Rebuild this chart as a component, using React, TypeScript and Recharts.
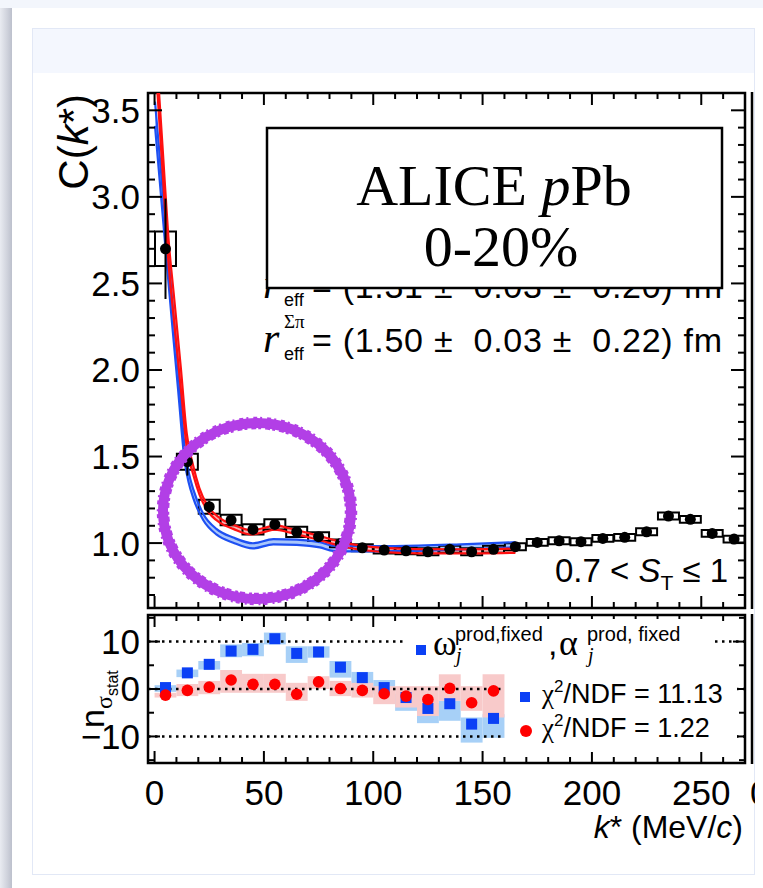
import { ComposedChart, XAxis, YAxis, Scatter, Line, Area, ErrorBar, ReferenceArea, ReferenceLine } from "recharts";

// measured C(k*) points, 0-20% pPb
const K_DATA = [5, 15, 25, 35, 45, 55, 65, 75, 85, 95, 105, 115, 125, 135, 145, 155, 165, 175, 185, 195, 205, 215, 225, 235, 245, 255, 265];
const C_DATA = [2.7, 1.47, 1.21, 1.133, 1.079, 1.108, 1.065, 1.037, 0.998, 0.973, 0.96, 0.955, 0.95, 0.964, 0.95, 0.964, 0.979, 1.004, 1.013, 1.008, 1.027, 1.033, 1.065, 1.156, 1.137, 1.056, 1.023];
const C_STAT = [0.29, 0.08, 0.035, 0.02, 0.015, 0.015, 0.015, 0.012, 0.012, 0.01, 0.01, 0.01, 0.01, 0.01, 0.01, 0.01, 0.01, 0.01, 0.01, 0.01, 0.01, 0.01, 0.01, 0.01, 0.01, 0.01, 0.01];
const C_SYS = [0.1, 0.046, 0.04, 0.03, 0.03, 0.03, 0.03, 0.025, 0.022, 0.02, 0.02, 0.02, 0.02, 0.02, 0.02, 0.02, 0.02, 0.02, 0.02, 0.02, 0.02, 0.02, 0.02, 0.02, 0.02, 0.02, 0.02];

// model with alpha free (red) and fixed (blue)
const RED_K = [0.8, 1.7, 4, 6.3, 9, 12.1, 14.7, 17.7, 20.5, 23.8, 30, 36, 44, 50, 55, 62, 70, 78, 85, 95, 105, 120, 140, 165];
const RED_C = [3.78, 3.6, 3.15, 2.7, 2.34, 1.94, 1.595, 1.42, 1.3, 1.21, 1.13, 1.094, 1.062, 1.075, 1.09, 1.072, 1.047, 1.02, 0.995, 0.972, 0.96, 0.953, 0.952, 0.956];
const RED_W = [0.07, 0.07, 0.07, 0.07, 0.07, 0.06, 0.04, 0.025, 0.018, 0.015, 0.013, 0.012, 0.012, 0.012, 0.012, 0.012, 0.012, 0.012, 0.012, 0.012, 0.012, 0.012, 0.012, 0.012];
const BLUE_K = [0.2, 3, 5.5, 8, 10.8, 13.9, 15.6, 17.7, 22.3, 28.4, 36, 45, 54.3, 65, 75.6, 81.7, 90.8, 110, 140, 165];
const BLUE_C = [3.48, 3.07, 2.7, 2.34, 1.94, 1.5, 1.38, 1.285, 1.15, 1.065, 1.017, 0.984, 1.008, 1.005, 0.99, 0.97, 0.967, 0.968, 0.978, 0.99];
const BLUE_W = [0.07, 0.07, 0.07, 0.07, 0.06, 0.04, 0.03, 0.025, 0.018, 0.016, 0.015, 0.015, 0.015, 0.015, 0.015, 0.015, 0.015, 0.015, 0.015, 0.015];

// residuals panel
const K_RES = [5, 15, 25, 35, 45, 55, 65, 75, 85, 95, 105, 115, 125, 135, 145, 155];
const N_BLUE = [0.3, 3.4, 5.2, 8.0, 8.35, 10.6, 7.5, 7.8, 4.6, 2.4, 0.3, -1.8, -4.1, -3.1, -7.4, -6.2];
const N_BLUE_LO = [-0.6, 2.5, 4.1, 6.7, 6.9, 9.4, 5.5, 6.6, 2.4, 1.0, -1.0, -4.6, -7.2, -6.7, -11.3, -10.3];
const N_BLUE_HI = [0.8, 4.1, 5.9, 9.4, 9.7, 11.9, 9.0, 9.0, 5.9, 3.6, 1.9, -1.0, -3.0, -2.5, -6.0, -5.3];
const N_RED = [-1.3, -0.3, 0.4, 1.9, 1.0, 1.0, -1.1, 1.5, 0.1, -0.3, -1.0, -1.5, -2.2, 0.15, -2.9, -0.4];
const N_RED_LO = [-1.8, -1.5, -1.1, -0.8, -0.8, -0.8, -2.5, 0, -1.5, -1.8, -3.2, -3.9, -5.7, -2.5, -4.6, -6.0];
const N_RED_HI = [-0.8, 1.05, 1.7, 4.0, 3.2, 3.2, 1.3, 2.7, 1.7, 1.3, 0.6, 0.6, 0.6, 3.1, 0.6, 3.1];

const X_MAJOR = [0, 50, 100, 150, 200, 250];
const X_MINOR = [10, 20, 30, 40, 60, 70, 80, 90, 110, 120, 130, 140, 160, 170, 180, 190, 210, 220, 230, 240, 260];
const Y_TOP_MAJOR = [1.0, 1.5, 2.0, 2.5, 3.0, 3.5];
const Y_TOP_MINOR = [0.7, 0.8, 0.9, 1.1, 1.2, 1.3, 1.4, 1.6, 1.7, 1.8, 1.9, 2.1, 2.2, 2.3, 2.4, 2.6, 2.7, 2.8, 2.9, 3.1, 3.2, 3.3, 3.4];
const Y_BOT_MAJOR = [-10, 0, 10];
const Y_BOT_MINOR = [-15, -5, 5, 15];
const DOTTED = [10, 0, -10];

const X_DOMAIN = [-3, 270];
const Y_TOP_DOMAIN = [0.625, 3.6];
const Y_BOT_DOMAIN = [-15.6, 15.6];
const PLOT_W = 597;
const TOP_H = 515;
const BOT_H = 148;

const SANS = '"Liberation Sans", Arial, Helvetica, sans-serif';
const SERIF = '"Liberation Serif", "Times New Roman", serif';
const RING = "#b23fe6";

const points = K_DATA.map((k, i) => ({ k, v: C_DATA[i], e: C_STAT[i] }));
const redCurve = RED_K.map((k, i) => ({ k, band: [RED_C[i] - RED_W[i], RED_C[i] + RED_W[i]], lo: RED_C[i] - RED_W[i], hi: RED_C[i] + RED_W[i] }));
const blueCurve = BLUE_K.map((k, i) => ({ k, band: [BLUE_C[i] - BLUE_W[i], BLUE_C[i] + BLUE_W[i]], lo: BLUE_C[i] - BLUE_W[i], hi: BLUE_C[i] + BLUE_W[i] }));
const bluePts = K_RES.map((k, i) => ({ k, n: N_BLUE[i] }));
const redPts = K_RES.map((k, i) => ({ k, n: N_RED[i] }));

// ROOT-like frame with ticks pointing inward on all four sides.
// Tick lengths are given in pixels and turned into data units of each axis.
function frame(p: string, yDom: number[], plotH: number, yMajor: number[], yMinor: number[], yMajPx: number, yMinPx: number) {
  const [x0, x1] = X_DOMAIN;
  const [y0, y1] = yDom;
  const ux = (x1 - x0) / PLOT_W;
  const uy = (y1 - y0) / plotH;
  const seg = (key: string, a: number, b: number, c: number, d: number) => (
    <ReferenceLine key={p + key} xAxisId="x" yAxisId="y" segment={[{ x: a, y: b }, { x: c, y: d }]}
      stroke="#000" strokeWidth={2} ifOverflow="visible" />
  );
  const out: any[] = [];
  X_MAJOR.forEach((t) => {
    out.push(seg("xb" + t, t, y0, t, y0 + 12 * uy));
    out.push(seg("xt" + t, t, y1, t, y1 - 12 * uy));
  });
  X_MINOR.forEach((t) => {
    out.push(seg("xbm" + t, t, y0, t, y0 + 6 * uy));
    out.push(seg("xtm" + t, t, y1, t, y1 - 6 * uy));
  });
  yMajor.forEach((t) => {
    out.push(seg("yl" + t, x0, t, x0 + yMajPx * ux, t));
    out.push(seg("yr" + t, x1, t, x1 - yMajPx * ux, t));
  });
  yMinor.forEach((t) => {
    out.push(seg("ylm" + t, x0, t, x0 + yMinPx * ux, t));
    out.push(seg("yrm" + t, x1, t, x1 - yMinPx * ux, t));
  });
  out.push(
    <ReferenceArea key={p + "box"} xAxisId="x" yAxisId="y" x1={x0} x2={x1} y1={y0} y2={y1}
      fill="none" fillOpacity={0} stroke="#000" strokeWidth={2.5} ifOverflow="visible" />
  );
  return out;
}

const dot = (r: number, fill: string) => (p: any) => <circle cx={p.cx} cy={p.cy} r={r} fill={fill} />;
const square = (s: number, fill: string) => (p: any) => <rect x={p.cx - s / 2} y={p.cy - s / 2} width={s} height={s} fill={fill} />;

function TopPanel() {
  return (
    <ComposedChart width={722} height={530} margin={{ top: 10, right: 10, bottom: 5, left: 0 }}>
      <XAxis xAxisId="x" type="number" dataKey="k" domain={X_DOMAIN} allowDataOverflow hide height={0} />
      <YAxis yAxisId="y" type="number" dataKey="v" domain={Y_TOP_DOMAIN} allowDataOverflow width={115}
        ticks={Y_TOP_MAJOR} interval={0} tickFormatter={(v: number) => v.toFixed(1)}
        tick={{ fontSize: 35, fill: "#000", fontFamily: SANS }} tickLine={false} axisLine={false} tickSize={6} tickMargin={2} />

      <Area xAxisId="x" yAxisId="y" data={blueCurve} dataKey="band" type="monotone" stroke="none" fill="#a9c6fb" fillOpacity={1} isAnimationActive={false} />
      <Line xAxisId="x" yAxisId="y" data={blueCurve} dataKey="hi" type="monotone" stroke="#1e50f2" strokeWidth={2.2} dot={false} isAnimationActive={false} />
      <Line xAxisId="x" yAxisId="y" data={blueCurve} dataKey="lo" type="monotone" stroke="#1e50f2" strokeWidth={2.2} dot={false} isAnimationActive={false} />
      <Area xAxisId="x" yAxisId="y" data={redCurve} dataKey="band" type="monotone" stroke="none" fill="#f6b0b0" fillOpacity={1} isAnimationActive={false} />
      <Line xAxisId="x" yAxisId="y" data={redCurve} dataKey="hi" type="monotone" stroke="#ff1010" strokeWidth={2.2} dot={false} isAnimationActive={false} />
      <Line xAxisId="x" yAxisId="y" data={redCurve} dataKey="lo" type="monotone" stroke="#ff1010" strokeWidth={2.2} dot={false} isAnimationActive={false} />

      {K_DATA.map((k, i) => (
        <ReferenceArea key={"sys" + k} xAxisId="x" yAxisId="y" x1={k - 4.8} x2={k + 4.8} y1={C_DATA[i] - C_SYS[i]} y2={C_DATA[i] + C_SYS[i]}
          fill="none" fillOpacity={0} stroke="#000" strokeWidth={2} ifOverflow="visible" />
      ))}
      {frame("t", Y_TOP_DOMAIN, TOP_H, Y_TOP_MAJOR, Y_TOP_MINOR, 14, 7)}

      <Scatter xAxisId="x" yAxisId="y" data={points} dataKey="v" fill="#000" shape={dot(5.5, "#000")} isAnimationActive={false}>
        <ErrorBar dataKey="e" direction="y" width={0} stroke="#000" strokeWidth={2} />
      </Scatter>
    </ComposedChart>
  );
}

function BottomPanel() {
  return (
    <ComposedChart width={722} height={218} margin={{ top: 10, right: 10, bottom: 0, left: 0 }}>
      <XAxis xAxisId="x" type="number" dataKey="k" domain={X_DOMAIN} allowDataOverflow height={60}
        ticks={X_MAJOR} interval={0} tick={{ fontSize: 35, fill: "#000", fontFamily: SANS }}
        tickLine={false} axisLine={false} tickSize={6} tickMargin={11} />
      <YAxis yAxisId="y" type="number" dataKey="n" domain={Y_BOT_DOMAIN} allowDataOverflow width={115}
        ticks={Y_BOT_MAJOR} interval={0} tickFormatter={(v: number) => (v < 0 ? `\u2212${-v}` : `${v}`)}
        tick={{ fontSize: 35, fill: "#000", fontFamily: SANS }} tickLine={false} axisLine={false} tickSize={6} tickMargin={2} />

      {K_RES.map((k, i) => (
        <ReferenceArea key={"bb" + k} xAxisId="x" yAxisId="y" x1={k - 5} x2={k + 5} y1={N_BLUE_LO[i]} y2={N_BLUE_HI[i]}
          fill="#a7d0f7" fillOpacity={1} stroke="none" ifOverflow="visible" />
      ))}
      {K_RES.map((k, i) => (
        <ReferenceArea key={"rb" + k} xAxisId="x" yAxisId="y" x1={k - 5} x2={k + 5} y1={N_RED_LO[i]} y2={N_RED_HI[i]}
          fill="#f8caca" fillOpacity={1} stroke="none" ifOverflow="visible" />
      ))}
      {DOTTED.map((y) => (
        <ReferenceLine key={"d" + y} xAxisId="x" yAxisId="y" y={y} stroke="#000" strokeWidth={2.5} strokeDasharray="2.5 4.5" />
      ))}
      {frame("b", Y_BOT_DOMAIN, BOT_H, Y_BOT_MAJOR, Y_BOT_MINOR, 12, 6)}

      <Scatter xAxisId="x" yAxisId="y" data={bluePts} dataKey="n" fill="#0b40f5" shape={square(11, "#0b40f5")} isAnimationActive={false} />
      <Scatter xAxisId="x" yAxisId="y" data={redPts} dataKey="n" fill="#ff0000" shape={dot(5.8, "#ff0000")} isAnimationActive={false} />
    </ComposedChart>
  );
}

function Overlay() {
  return (
    <svg width={763} height={888} style={{ position: "absolute", left: 0, top: 0, pointerEvents: "none" }} fontFamily={SANS} fill="#000">
      {/* radii text, partly behind the label box */}
      <text x={263} y={298} fontSize={42} fontStyle="italic" fontFamily={SERIF}>r</text>
      <text x={284} y={306} fontSize={18}>eff</text>
      <text x={312} y={298} fontSize={34} textLength={410} lengthAdjust="spacing" style={{ whiteSpace: "pre" }}>= (1.31 ±  0.03 ±  0.20) fm</text>

      <text x={263} y={352} fontSize={42} fontStyle="italic" fontFamily={SERIF}>r</text>
      <text x={284} y={328} fontSize={19} fontFamily={SERIF}>Σπ</text>
      <text x={284} y={360} fontSize={18}>eff</text>
      <text x={312} y={352} fontSize={34} textLength={410} lengthAdjust="spacing" style={{ whiteSpace: "pre" }}>= (1.50 ±  0.03 ±  0.22) fm</text>

      <rect x={267} y={128} width={455} height={160} fill="#fff" stroke="#000" strokeWidth={2.5} />
      <text x={494} y={205} fontSize={58} fontFamily={SERIF} textAnchor="middle">
        ALICE <tspan fontStyle="italic">p</tspan>Pb
      </text>
      <text x={501} y={266} fontSize={58} fontFamily={SERIF} textAnchor="middle">0-20%</text>

      <text x={555} y={582} fontSize={33}>
        0.7 &lt; <tspan fontStyle="italic">S</tspan>
        <tspan fontSize={21} dy={8}>T</tspan>
        <tspan dy={-8}> ≤ 1</tspan>
      </text>

      {/* legend of the residual panel */}
      <rect x={405} y={619} width={307} height={44} fill="#fff" />
      <rect x={416} y={645} width={10} height={10} fill="#0b40f5" />
      <text x={433} y={655} fontSize={36} fontFamily={SERIF}>ω</text>
      <text x={455} y={641} fontSize={20}>prod,fixed</text>
      <text x={456} y={662} fontSize={20} fontStyle="italic" fontFamily={SERIF}>j</text>
      <text x={548} y={655} fontSize={34}>,</text>
      <text x={559} y={655} fontSize={36} fontFamily={SERIF}>α</text>
      <text x={587} y={641} fontSize={20}>prod, fixed</text>
      <text x={588} y={662} fontSize={20} fontStyle="italic" fontFamily={SERIF}>j</text>

      <rect x={505} y={667} width={232} height={85} fill="#fff" />
      <rect x={520} y={692} width={10} height={10} fill="#0b40f5" />
      <text x={542} y={703} fontSize={27}>
        <tspan fontFamily={SERIF}>χ</tspan>
        <tspan fontSize={17} dy={-11}>2</tspan>
        <tspan dy={11}>/NDF = 11.13</tspan>
      </text>
      <circle cx={526} cy={731} r={6} fill="#ff0000" />
      <text x={542} y={737} fontSize={27}>
        <tspan fontFamily={SERIF}>χ</tspan>
        <tspan fontSize={17} dy={-11}>2</tspan>
        <tspan dy={11}>/NDF = 1.22</tspan>
      </text>

      {/* axis titles */}
      <text transform="rotate(-90)" x={-94} y={88} fontSize={42} textAnchor="end">
        C(<tspan fontStyle="italic">k</tspan>*)
      </text>
      <g transform="rotate(-90)">
        <text x={-728} y={104} fontSize={34}>n</text>
        <text x={-709} y={112} fontSize={24} fontFamily={SERIF}>σ</text>
        <text x={-696} y={118} fontSize={16}>stat</text>
      </g>
      <text x={743} y={838} fontSize={32} textAnchor="end">
        <tspan fontStyle="italic">k</tspan>* (MeV/<tspan fontStyle="italic">c</tspan>)
      </text>

      {/* frame of the neighbouring (cropped) panel */}
      <line x1={752} y1={92} x2={752} y2={609} stroke="#000" strokeWidth={2.5} />
      <line x1={752} y1={614} x2={752} y2={764} stroke="#000" strokeWidth={2.5} />
      <text x={750} y={805} fontSize={35}>0</text>

      {/* hand-drawn highlight, with ragged edges */}
      <ellipse cx={257} cy={511} rx={94} ry={88} fill="none" stroke={RING} strokeWidth={10} />
      <ellipse cx={257} cy={511} rx={99} ry={93} fill="none" stroke={RING} strokeWidth={2.5} strokeDasharray="4 3 2 5" />
      <ellipse cx={257} cy={511} rx={89} ry={83} fill="none" stroke={RING} strokeWidth={2.5} strokeDasharray="3 4 5 2" />
    </svg>
  );
}

export default function App() {
  return (
    <div style={{ position: "absolute", left: 0, top: 0, width: 763, height: 888, background: "#f3f6fc", overflow: "hidden", fontFamily: SANS }}>
      <div style={{ position: "absolute", left: 0, top: 8, width: 13, height: 880, background: "linear-gradient(to right, #e9ebf1, #cdd0da 60%, #b8bcc9)" }} />
      <div style={{ position: "absolute", left: 12, top: 8, width: 751, height: 880, background: "#fff" }} />
      <div style={{ position: "absolute", left: 32, top: 28, width: 723, height: 847, border: "1px solid #e2e8f6", boxSizing: "border-box", background: "#fff" }} />
      <div style={{ position: "absolute", left: 33, top: 29, width: 721, height: 44, background: "#f4f7fe" }} />
      <div style={{ position: "absolute", left: 0, top: 0, width: 755, height: 874, overflow: "hidden" }}>
        <div style={{ position: "absolute", left: 33, top: 83 }}>
          <TopPanel />
        </div>
        <div style={{ position: "absolute", left: 33, top: 605 }}>
          <BottomPanel />
        </div>
        <Overlay />
      </div>
    </div>
  );
}
